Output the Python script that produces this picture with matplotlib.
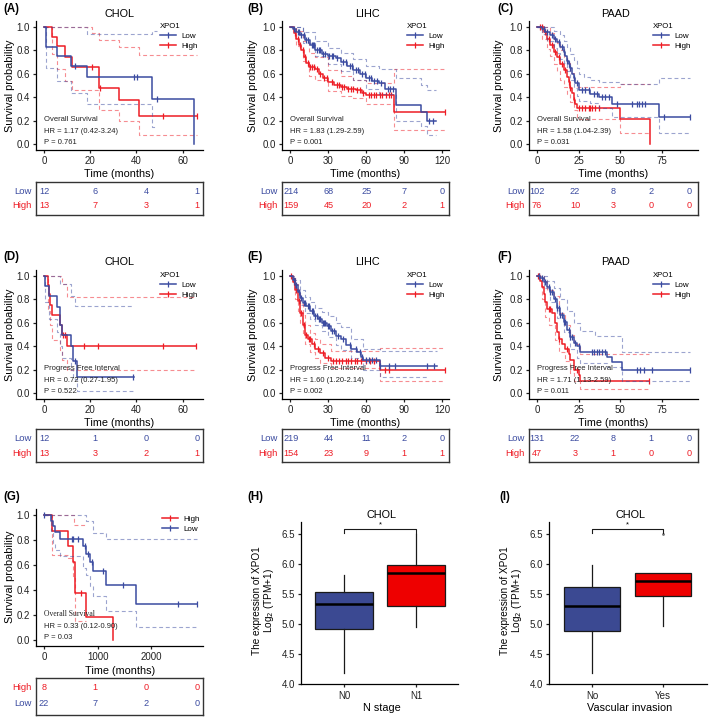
import numpy as np
import matplotlib.pyplot as plt
from matplotlib.lines import Line2D

plt.rcParams['font.family'] = ['Liberation Sans', 'DejaVu Sans']

BLUE = '#3B4BA0'
RED = '#EE1C25'
W, H = 709, 718

# ---------------- data ----------------
# (A) CHOL overall survival
a_low_t = [0, 0.9, 5.5, 11.6, 18.6, 46.8, 65]
a_low_s = [1.0, 0.833, 0.75, 0.667, 0.571, 0.381, 0.0]
a_low_cens = [13.5, 38.8, 40.3, 49]
a_high_t = [0, 3.3, 5.5, 9.1, 12, 23.6, 32.3, 41, 66.4]
a_high_s = [1.0, 0.917, 0.84, 0.74, 0.66, 0.476, 0.376, 0.24, 0.24]
a_high_cens = [20.7, 24.2, 51.5, 66.4]
a_low_up_t = [0, 18.6, 46.8, 49]
a_low_up_s = [1.0, 0.94, 0.97, 0.97]
a_low_lo_t = [0, 0.9, 5.5, 11.6, 18.6, 46.8, 49]
a_low_lo_s = [1.0, 0.65, 0.54, 0.44, 0.34, 0.145, 0.145]
a_high_up_t = [0, 20.7, 23.6, 32.3, 41, 66.4]
a_high_up_s = [1.0, 0.95, 0.89, 0.83, 0.76, 0.76]
a_high_lo_t = [0, 3.3, 5.5, 9.1, 12, 23.6, 32.3, 41, 66.4]
a_high_lo_s = [1.0, 0.77, 0.64, 0.54, 0.46, 0.29, 0.2, 0.08, 0.08]
a_risk_low = [12, 6, 4, 1]
a_risk_high = [13, 7, 3, 1]

# (B) LIHC overall survival
b_low_t = [0, 2, 5, 8, 12, 16, 20, 25, 30, 36, 40, 45, 50, 55, 60, 65, 70, 75, 84, 103, 108, 115]
b_low_s = [1.0, 0.98, 0.96, 0.93, 0.89, 0.85, 0.80, 0.77, 0.75, 0.735, 0.70, 0.67, 0.63, 0.60,
           0.56, 0.535, 0.52, 0.47, 0.33, 0.27, 0.20, 0.20]
b_low_cens = [3, 6, 7, 9, 11, 13, 14, 17, 18, 19, 21, 23, 24, 26, 28, 31, 33, 34, 37, 42, 44, 47,
              49, 52, 54, 57, 59, 62, 64, 66, 69, 72, 77, 79, 81, 110, 113]
b_high_t = [0, 3, 5, 7, 9, 11, 13, 15, 20, 23, 26, 30, 35, 40, 45, 52, 57, 60, 82, 122]
b_high_s = [1.0, 0.95, 0.90, 0.85, 0.80, 0.74, 0.69, 0.66, 0.64, 0.60, 0.56, 0.53, 0.50, 0.49,
            0.47, 0.46, 0.44, 0.42, 0.275, 0.275]
b_high_cens = [4, 6, 8, 10, 12, 14, 16, 17, 19, 21, 24, 27, 29, 33, 37, 39, 41, 43, 46, 48, 50,
               53, 55, 58, 62, 64, 66, 68, 71, 73, 76, 78, 80, 122]
b_low_up_t = [0, 10, 20, 30, 40, 50, 60, 70, 84, 103, 108, 115]
b_low_up_s = [1.0, 0.96, 0.88, 0.82, 0.78, 0.73, 0.67, 0.64, 0.56, 0.50, 0.46, 0.46]
b_low_lo_t = [0, 10, 20, 30, 40, 50, 60, 70, 84, 103, 108, 115]
b_low_lo_s = [1.0, 0.86, 0.75, 0.68, 0.62, 0.55, 0.47, 0.43, 0.20, 0.15, 0.08, 0.08]
b_high_up_t = [0, 5, 10, 15, 20, 30, 40, 50, 60, 82, 122]
b_high_up_s = [1.0, 0.97, 0.88, 0.78, 0.74, 0.63, 0.58, 0.55, 0.52, 0.64, 0.64]
b_high_lo_t = [0, 5, 10, 15, 20, 30, 40, 50, 60, 82, 122]
b_high_lo_s = [1.0, 0.84, 0.71, 0.58, 0.55, 0.45, 0.41, 0.39, 0.34, 0.12, 0.12]
b_risk_low = [214, 68, 25, 7, 0]
b_risk_high = [159, 45, 20, 2, 1]

# (C) PAAD overall survival
c_low_t = [0, 3, 5, 8, 10, 12, 14, 16, 17, 18, 19, 20, 21, 22, 23, 25, 32, 37, 45, 73, 92]
c_low_s = [1.0, 0.98, 0.96, 0.93, 0.90, 0.87, 0.83, 0.79, 0.75, 0.71, 0.68, 0.65, 0.60, 0.56,
           0.52, 0.46, 0.43, 0.40, 0.34, 0.23, 0.23]
c_low_cens = [4, 6, 9, 11, 13, 15, 16, 18, 19, 20, 22, 24, 27, 29, 31, 34, 36, 39, 41, 43, 48,
              57, 60, 61, 63, 65, 76, 92]
c_high_t = [0, 4, 6, 8, 10, 12, 14, 16, 18, 19, 20, 21, 22, 23, 24, 50, 68]
c_high_s = [1.0, 0.96, 0.90, 0.85, 0.79, 0.74, 0.68, 0.63, 0.57, 0.53, 0.48, 0.44, 0.38, 0.34,
            0.31, 0.21, 0.0]
c_high_cens = [2, 3, 5, 7, 9, 11, 13, 15, 17, 19, 20, 22, 25, 27, 29, 31, 32, 33, 35, 37]
c_low_up_t = [0, 10, 14, 16, 18, 20, 22, 24, 25, 28, 32, 37, 50, 73, 92]
c_low_up_s = [1.0, 0.97, 0.93, 0.88, 0.83, 0.77, 0.72, 0.65, 0.60, 0.57, 0.55, 0.53, 0.51, 0.56, 0.56]
c_low_lo_t = [0, 3, 6, 10, 12, 14, 16, 18, 20, 22, 24, 25, 32, 37, 45, 73, 92]
c_low_lo_s = [1.0, 0.94, 0.88, 0.82, 0.78, 0.73, 0.69, 0.62, 0.55, 0.48, 0.41, 0.37, 0.35, 0.31,
              0.23, 0.09, 0.09]
c_high_up_t = [0, 8, 10, 12, 14, 16, 18, 20, 22, 24, 50, 68]
c_high_up_s = [1.0, 0.95, 0.90, 0.86, 0.80, 0.74, 0.69, 0.61, 0.55, 0.49, 0.51, 0.51]
c_high_lo_t = [0, 3, 6, 8, 10, 12, 14, 16, 18, 20, 22, 24, 50, 68]
c_high_lo_s = [1.0, 0.90, 0.81, 0.75, 0.68, 0.62, 0.55, 0.49, 0.43, 0.36, 0.29, 0.21, 0.09, 0.09]
c_risk_low = [102, 22, 8, 2, 0]
c_risk_high = [76, 10, 3, 0, 0]

# (D) CHOL progress free interval
d_low_t = [0, 0.6, 2, 5.8, 7, 7.8, 11.8, 12.5, 14.3, 39]
d_low_s = [1.0, 0.917, 0.833, 0.733, 0.583, 0.5, 0.4, 0.275, 0.137, 0.137]
d_low_cens = [13.6, 38.5]
d_high_t = [0, 1.6, 2, 2.6, 3.3, 6.9, 7.7, 9.8, 66]
d_high_s = [1.0, 0.92, 0.846, 0.755, 0.664, 0.58, 0.5, 0.40, 0.40]
d_high_cens = [8.3, 9, 17.3, 23.5, 51.5, 66]
d_low_up_t = [0, 6.9, 11.8, 13.3, 39]
d_low_up_s = [1.0, 0.93, 0.83, 0.74, 0.74]
d_low_lo_t = [0, 0.6, 2, 5.8, 6.9, 7.8, 11.8, 12.5, 14.3, 39]
d_low_lo_s = [1.0, 0.78, 0.63, 0.52, 0.40, 0.30, 0.20, 0.12, 0.02, 0.02]
d_high_up_t = [0, 7.7, 9.8, 66]
d_high_up_s = [1.0, 0.93, 0.82, 0.82]
d_high_lo_t = [0, 1.6, 2.6, 3.3, 6.9, 7.7, 9.8, 66]
d_high_lo_s = [1.0, 0.70, 0.58, 0.45, 0.365, 0.28, 0.20, 0.20]
d_risk_low = [12, 1, 0, 0]
d_risk_high = [13, 3, 2, 1]

# (E) LIHC progress free interval
e_low_t = [0, 2, 4, 6, 8, 10, 13, 16, 19, 22, 25, 29, 32, 36, 40, 44, 48, 53, 56, 58, 71, 116]
e_low_s = [1.0, 0.97, 0.92, 0.86, 0.81, 0.77, 0.74, 0.70, 0.66, 0.63, 0.60, 0.57, 0.53, 0.49,
           0.46, 0.41, 0.38, 0.35, 0.31, 0.28, 0.23, 0.23]
e_low_cens = [3, 5, 7, 9, 11, 12, 14, 15, 17, 18, 20, 21, 23, 24, 26, 27, 28, 30, 31, 33, 35,
              38, 42, 47, 52, 55, 57, 60, 62, 65, 68, 71, 78, 83, 108, 114]
e_high_t = [0, 2, 4, 6, 8, 10, 12, 14, 17, 20, 24, 28, 32, 71, 122]
e_high_s = [1.0, 0.95, 0.88, 0.79, 0.68, 0.58, 0.50, 0.46, 0.42, 0.38, 0.34, 0.30, 0.27, 0.20, 0.20]
e_high_cens = [1, 3, 5, 7, 9, 11, 13, 15, 16, 19, 22, 26, 30, 34, 36, 39, 41, 44, 46, 48, 51,
               53, 56, 60, 63, 66, 75, 78, 122]
e_low_up_t = [0, 4, 8, 12, 16, 20, 25, 30, 36, 40, 48, 58, 71, 116]
e_low_up_s = [1.0, 0.97, 0.88, 0.82, 0.78, 0.73, 0.69, 0.66, 0.60, 0.56, 0.46, 0.38, 0.36, 0.36]
e_low_lo_t = [0, 4, 8, 12, 16, 20, 25, 30, 36, 40, 48, 58, 71, 110]
e_low_lo_s = [1.0, 0.88, 0.75, 0.68, 0.63, 0.58, 0.53, 0.48, 0.41, 0.37, 0.30, 0.20, 0.14, 0.14]
e_high_up_t = [0, 4, 6, 8, 10, 12, 16, 20, 24, 32, 71, 122]
e_high_up_s = [1.0, 0.93, 0.86, 0.76, 0.67, 0.58, 0.51, 0.46, 0.42, 0.36, 0.385, 0.385]
e_high_lo_t = [0, 4, 6, 8, 10, 12, 16, 20, 24, 32, 71, 122]
e_high_lo_s = [1.0, 0.80, 0.70, 0.60, 0.50, 0.42, 0.35, 0.30, 0.26, 0.21, 0.10, 0.10]
e_risk_low = [219, 44, 11, 2, 0]
e_risk_high = [154, 23, 9, 1, 1]

# (F) PAAD progress free interval
f_low_t = [0, 2, 4, 6, 8, 10, 12, 14, 16, 18, 20, 22, 24, 26, 42, 45, 51, 92]
f_low_s = [1.0, 0.98, 0.95, 0.91, 0.86, 0.80, 0.73, 0.67, 0.61, 0.54, 0.48, 0.43, 0.40, 0.35,
           0.31, 0.265, 0.195, 0.195]
f_low_cens = [1, 3, 5, 7, 8, 9, 11, 12, 13, 14, 15, 16, 17, 19, 20, 21, 23, 25, 33, 34, 36, 37,
              39, 41, 60, 62, 64, 69, 92]
f_high_t = [0, 2, 3, 4, 5, 6, 9, 11, 12, 13, 15, 17, 19, 20, 22, 25, 26, 67]
f_high_s = [1.0, 0.96, 0.91, 0.85, 0.78, 0.72, 0.68, 0.60, 0.52, 0.46, 0.42, 0.38, 0.33, 0.28,
            0.20, 0.15, 0.10, 0.10]
f_high_cens = [0.5, 1, 7, 8, 13, 18, 24, 67]
f_low_up_t = [0, 6, 10, 14, 18, 22, 26, 35, 51, 92]
f_low_up_s = [1.0, 0.96, 0.90, 0.80, 0.70, 0.60, 0.53, 0.49, 0.35, 0.35]
f_low_lo_t = [0, 4, 8, 12, 16, 20, 24, 26, 42, 51, 92]
f_low_lo_s = [1.0, 0.90, 0.78, 0.64, 0.52, 0.38, 0.30, 0.26, 0.22, 0.10, 0.10]
f_high_up_t = [0, 4, 6, 10, 13, 17, 20, 22, 26, 67]
f_high_up_s = [1.0, 0.96, 0.88, 0.83, 0.68, 0.58, 0.50, 0.42, 0.33, 0.33]
f_high_lo_t = [0, 3, 5, 7, 11, 13, 17, 20, 22, 26, 67]
f_high_lo_s = [1.0, 0.80, 0.65, 0.58, 0.45, 0.35, 0.27, 0.17, 0.10, 0.03, 0.03]
f_risk_low = [131, 22, 8, 1, 0]
f_risk_high = [47, 3, 1, 0, 0]

# (G) overall survival, second cohort
g_high_t = [0, 137, 437, 530, 575, 780, 1280]
g_high_s = [1.0, 0.875, 0.75, 0.625, 0.375, 0.1875, 0.0]
g_high_cens = [690]
g_low_t = [0, 125, 170, 200, 290, 730, 780, 856, 920, 1156, 1720, 2856]
g_low_s = [1.0, 0.955, 0.91, 0.864, 0.808, 0.75, 0.69, 0.624, 0.55, 0.437, 0.29, 0.29]
g_low_cens = [0, 510, 545, 640, 760, 825, 890, 1105, 1470, 2510, 2856]
g_low_up_t = [0, 780, 920, 1156, 2856]
g_low_up_s = [1.0, 0.95, 0.853, 0.808, 0.808]
g_low_lo_t = [0, 125, 170, 200, 290, 730, 780, 856, 920, 1156, 1720, 2856]
g_low_lo_s = [1.0, 0.87, 0.78, 0.72, 0.67, 0.58, 0.52, 0.43, 0.35, 0.235, 0.104, 0.104]
g_high_up_t = [0, 555, 780]
g_high_up_s = [1.0, 0.92, 0.92]
g_high_lo_t = [0, 137, 437, 530, 575, 780]
g_high_lo_s = [1.0, 0.68, 0.655, 0.50, 0.155, 0.155]
g_risk_high = [8, 1, 0, 0]
g_risk_low = [22, 7, 2, 0]

# (H), (I) box plots
h_groups = ['N0', 'N1']
h_whislo = [4.18, 4.95]
h_q1 = [4.91, 5.30]
h_med = [5.34, 5.85]
h_q3 = [5.54, 5.99]
h_whishi = [5.81, 6.50]

i_groups = ['No', 'Yes']
i_whislo = [4.18, 4.96]
i_q1 = [4.89, 5.46]
i_med = [5.30, 5.71]
i_q3 = [5.61, 5.85]
i_whishi = [5.99, 5.85]
i_fliers = [[], [6.50]]

fig = plt.figure(figsize=(W / 100, H / 100), dpi=100)


def add_px_axes(left, top, right, bottom):
    return fig.add_axes([left / W, 1 - bottom / H, (right - left) / W, (bottom - top) / H])


def fig_text(x, y, s, **kw):
    fig.text(x / W, 1 - y / H, s, **kw)


def step_value(t, s, x):
    idx = np.searchsorted(t, x, side='right') - 1
    return np.asarray(s)[idx]


def style_axes(ax):
    for side in ['top', 'right']:
        ax.spines[side].set_visible(False)
    for side in ['left', 'bottom']:
        ax.spines[side].set_linewidth(0.9)
    ax.tick_params(length=2.5, width=0.9, labelsize=7.0, pad=1.8, colors='#222222')


def km_axes(spine_l, spine_r, x0, scale, y1, y0, ticks):
    span = y0 - y1
    ax = add_px_axes(spine_l, y1 - 0.05 * span, spine_r, y0 + 0.05 * span)
    ax.set_xlim((spine_l - x0) / scale, (spine_r - x0) / scale)
    ax.set_ylim(-0.05, 1.05)
    ax.set_xticks(ticks)
    ax.set_yticks([0, 0.2, 0.4, 0.6, 0.8, 1.0])
    ax.set_yticklabels(['0.0', '0.2', '0.4', '0.6', '0.8', '1.0'])
    style_axes(ax)
    return ax


def draw_group(ax, t, s, cens, up_t, up_s, lo_t, lo_s, color):
    ax.step(up_t, up_s, where='post', color=color, lw=0.8, ls=(0, (3.5, 2.5)), alpha=0.5)
    ax.step(lo_t, lo_s, where='post', color=color, lw=0.8, ls=(0, (3.5, 2.5)), alpha=0.5)
    ax.step(t, s, where='post', color=color, lw=1.1)
    ax.plot(cens, step_value(t, s, cens), ls='none', marker='|', ms=4.5, mew=0.9, color=color)


def km_legend(ax, x, y, labels, colors, title=None):
    handles = [Line2D([], [], color=c, lw=1.1, marker='|', ms=4.5, mew=0.9) for c in colors]
    ax.legend(handles, labels, title=title, loc='upper left', bbox_to_anchor=(x / W, 1 - y / H),
              bbox_transform=fig.transFigure, frameon=False, fontsize=5.8, title_fontsize=5.6,
              handlelength=2.0, handletextpad=0.6, labelspacing=0.28, borderpad=0,
              borderaxespad=0, alignment='left')


def annotate(ax, lines, family=None):
    for (txt, yv), fam in zip(zip(lines, [0.21, 0.11, 0.017]), [family, None, None]):
        kw = {'family': fam} if fam else {}
        ax.text(0, yv, txt, fontsize=5.5, ha='left', va='center', color='#222222', **kw)


def risk_table(left, right, top, bottom, first, step, row_y, rows):
    ax = add_px_axes(left, top, right, bottom)
    dy = row_y[1] - row_y[0]
    ax.set_xlim((left - first) / step, (right - first) / step)
    ax.set_ylim(-(bottom - row_y[1]) / dy, 1 + (row_y[0] - top) / dy)
    for j, (lab, vals, col) in enumerate(rows):
        yv = 1 - j
        for i, v in enumerate(vals):
            ax.text(i, yv, str(v), ha='center', va='center', color=col, fontsize=6.6)
        ax.text(-0.025, yv, lab, transform=ax.get_yaxis_transform(), ha='right', va='center',
                color=col, fontsize=6.8)
    ax.set_xticks([])
    ax.set_yticks([])
    for sp in ax.spines.values():
        sp.set_linewidth(1.0)
        sp.set_color('#333333')
    return ax


# column / row geometry in pixels
cols = [
    dict(l=36, r=203, x0=44, scale=2.31, lab_x=3, ylab_x=10, title_x=120, leg_x=160, tab_first=44, tab_step=51),
    dict(l=282, r=449, x0=290, scale=1.267, lab_x=247, ylab_x=253, title_x=367, leg_x=407, tab_first=291, tab_step=37.8),
    dict(l=529, r=698, x0=537, scale=1.667, lab_x=497, ylab_x=499, title_x=616, leg_x=653, tab_first=537, tab_step=38),
]
rows = [
    dict(y1=27, y0=144, title_y=14, lab_y=9, xlab_y=174, tab=(182, 215, (191, 206))),
    dict(y1=276, y0=393, title_y=262, lab_y=257, xlab_y=423, tab=(429, 462, (438, 453))),
]

panels = [
    ('(A)', 'CHOL', 'Overall Survival', 'HR = 1.17 (0.42-3.24)', 'P = 0.761', [0, 20, 40, 60],
     (a_low_t, a_low_s, a_low_cens, a_low_up_t, a_low_up_s, a_low_lo_t, a_low_lo_s),
     (a_high_t, a_high_s, a_high_cens, a_high_up_t, a_high_up_s, a_high_lo_t, a_high_lo_s),
     a_risk_low, a_risk_high),
    ('(B)', 'LIHC', 'Overall Survival', 'HR = 1.83 (1.29-2.59)', 'P = 0.001', [0, 30, 60, 90, 120],
     (b_low_t, b_low_s, b_low_cens, b_low_up_t, b_low_up_s, b_low_lo_t, b_low_lo_s),
     (b_high_t, b_high_s, b_high_cens, b_high_up_t, b_high_up_s, b_high_lo_t, b_high_lo_s),
     b_risk_low, b_risk_high),
    ('(C)', 'PAAD', 'Overall Survival', 'HR = 1.58 (1.04-2.39)', 'P = 0.031', [0, 25, 50, 75],
     (c_low_t, c_low_s, c_low_cens, c_low_up_t, c_low_up_s, c_low_lo_t, c_low_lo_s),
     (c_high_t, c_high_s, c_high_cens, c_high_up_t, c_high_up_s, c_high_lo_t, c_high_lo_s),
     c_risk_low, c_risk_high),
    ('(D)', 'CHOL', 'Progress Free Interval', 'HR = 0.72 (0.27-1.95)', 'P = 0.522', [0, 20, 40, 60],
     (d_low_t, d_low_s, d_low_cens, d_low_up_t, d_low_up_s, d_low_lo_t, d_low_lo_s),
     (d_high_t, d_high_s, d_high_cens, d_high_up_t, d_high_up_s, d_high_lo_t, d_high_lo_s),
     d_risk_low, d_risk_high),
    ('(E)', 'LIHC', 'Progress Free Interval', 'HR = 1.60 (1.20-2.14)', 'P = 0.002', [0, 30, 60, 90, 120],
     (e_low_t, e_low_s, e_low_cens, e_low_up_t, e_low_up_s, e_low_lo_t, e_low_lo_s),
     (e_high_t, e_high_s, e_high_cens, e_high_up_t, e_high_up_s, e_high_lo_t, e_high_lo_s),
     e_risk_low, e_risk_high),
    ('(F)', 'PAAD', 'Progress Free Interval', 'HR = 1.71 (1.13-2.59)', 'P = 0.011', [0, 25, 50, 75],
     (f_low_t, f_low_s, f_low_cens, f_low_up_t, f_low_up_s, f_low_lo_t, f_low_lo_s),
     (f_high_t, f_high_s, f_high_cens, f_high_up_t, f_high_up_s, f_high_lo_t, f_high_lo_s),
     f_risk_low, f_risk_high),
]

for k, (plab, title, ann1, ann2, ann3, ticks, low, high, risk_low, risk_high) in enumerate(panels):
    c = cols[k % 3]
    r = rows[k // 3]
    ax = km_axes(c['l'], c['r'], c['x0'], c['scale'], r['y1'], r['y0'], ticks)
    draw_group(ax, *high, RED)
    draw_group(ax, *low, BLUE)
    km_legend(ax, c['leg_x'], r['y1'] - 4, ['Low', 'High'], [BLUE, RED], title='XPO1')
    annotate(ax, [ann1, ann2, ann3])
    fig_text(c['lab_x'], r['lab_y'], plab, fontsize=8.3, fontweight='bold', va='center', ha='left')
    fig_text(c['title_x'], r['title_y'], title, fontsize=7.8, ha='center', va='center')
    fig_text((c['l'] + c['r']) / 2, r['xlab_y'], 'Time (months)', fontsize=7.8, ha='center', va='center')
    fig_text(c['ylab_x'], (r['y1'] + r['y0']) / 2, 'Survival probability', fontsize=7.8,
             rotation=90, ha='center', va='center')
    t_top, t_bot, t_rows = r['tab']
    risk_table(c['l'], c['r'], t_top, t_bot, c['tab_first'], c['tab_step'], t_rows,
               [('Low', risk_low, BLUE), ('High', risk_high, RED)])

# ---------------- panel G ----------------
axg = km_axes(36, 203, 44.3, 0.05335, 515, 640, [0, 1000, 2000])
draw_group(axg, g_high_t, g_high_s, g_high_cens, g_high_up_t, g_high_up_s, g_high_lo_t, g_high_lo_s, RED)
draw_group(axg, g_low_t, g_low_s, g_low_cens, g_low_up_t, g_low_up_s, g_low_lo_t, g_low_lo_s, BLUE)
km_legend(axg, 162, 515, ['High', 'Low'], [RED, BLUE])
annotate(axg, ['Overall Survival', 'HR = 0.33 (0.12-0.90)', 'P = 0.03'], family='Liberation Serif')
fig_text(3, 497, '(G)', fontsize=8.3, fontweight='bold', va='center', ha='left')
fig_text(120, 671, 'Time (months)', fontsize=7.8, ha='center', va='center')
fig_text(10, 577, 'Survival probability', fontsize=7.8, rotation=90, ha='center', va='center')
risk_table(36, 203, 678, 715, 44, 51, (688, 704),
           [('High', g_risk_high, RED), ('Low', g_risk_low, BLUE)])


# ---------------- panels H and I ----------------
def box_panel(left, right, x_first, x_step, groups, whislo, q1, med, q3, whishi, fliers,
              plab, plab_x, xlabel, ylab_x):
    ax = add_px_axes(left, 522, right, 684)
    ax.set_ylim(4.0, 6.7)
    ax.set_xlim((left - x_first) / x_step, (right - x_first) / x_step)
    stats = []
    for i in range(len(groups)):
        stats.append(dict(med=med[i], q1=q1[i], q3=q3[i], whislo=whislo[i], whishi=whishi[i],
                          fliers=fliers[i]))
    bp = ax.bxp(stats, positions=range(len(groups)), widths=0.8, patch_artist=True,
                showcaps=False, showfliers=True,
                boxprops=dict(linewidth=0.9, edgecolor='#1a1a1a'),
                medianprops=dict(color='black', linewidth=1.8),
                whiskerprops=dict(color='#1a1a1a', linewidth=0.9),
                flierprops=dict(marker='o', ms=1.0, mfc='#777777', mec='#777777'))
    for patch, col in zip(bp['boxes'], ['#3B4992', '#EE0000']):
        patch.set_facecolor(col)
    ax.set_xticks(range(len(groups)))
    ax.set_xticklabels(groups)
    ax.set_yticks([4.0, 4.5, 5.0, 5.5, 6.0, 6.5])
    ax.set_yticklabels(['4.0', '4.5', '5.0', '5.5', '6.0', '6.5'])
    style_axes(ax)
    ax.tick_params(axis='x', pad=2.5)
    # significance bracket
    ax.plot([0, 0, 1, 1], [6.525, 6.585, 6.585, 6.525], color='#1a1a1a', lw=0.8)
    ax.text(0.5, 6.6, '*', ha='center', va='bottom', fontsize=5.5)
    cx = (left + right) / 2
    fig_text(cx + 2, 515, 'CHOL', fontsize=7.8, ha='center', va='center')
    fig_text(cx + 2, 708, xlabel, fontsize=7.8, ha='center', va='center')
    fig_text(ylab_x, 601, 'The expression of XPO1\nLog$_2$ (TPM+1)', fontsize=7.2, rotation=90,
             ha='center', va='center', linespacing=0.95)
    fig_text(plab_x, 497, plab, fontsize=8.3, fontweight='bold', va='center', ha='left')


box_panel(301, 458, 344, 72, h_groups, h_whislo, h_q1, h_med, h_q3, h_whishi, [[], []],
          '(H)', 247, 'N stage', 264)
box_panel(549, 707, 592, 71, i_groups, i_whislo, i_q1, i_med, i_q3, i_whishi, i_fliers,
          '(I)', 499, 'Vascular invasion', 512)

fig.savefig('out.png', dpi=100)
